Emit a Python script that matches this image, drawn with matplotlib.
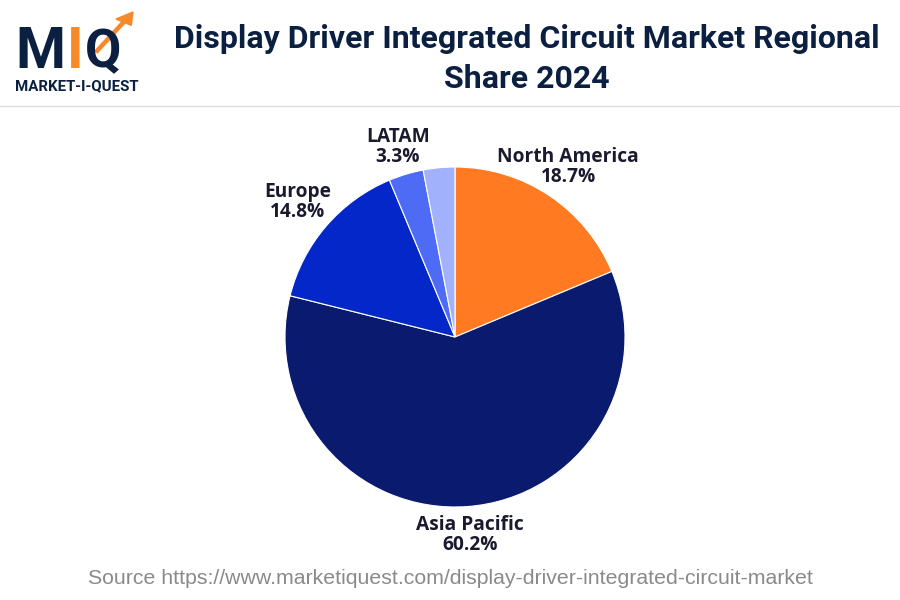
import matplotlib.pyplot as plt
from matplotlib.patches import FancyArrow
import numpy as np

regions = ["North America", "Asia Pacific", "Europe", "LATAM", "Middle East & Africa"]
shares = [18.7, 60.2, 14.8, 3.3, 3.0]
show_label = [True, True, True, True, False]
colors = ["#FF7A21", "#0A1A6E", "#0427C9", "#4E6BF6", "#A2B1FB"]
label_dist = [1.2, 1.17, 1.22, 1.17, 1.15]

navy = "#0B1F40"

fig = plt.figure(figsize=(9, 6), dpi=100)

# pie
ax = fig.add_axes([285 / 900, (600 - 507) / 600, 340 / 900, 340 / 600])
wedges, _ = ax.pie(shares, colors=colors, startangle=90, counterclock=False,
                   radius=1, wedgeprops=dict(edgecolor="white", linewidth=0.8))
ax.set_xlim(-1, 1)
ax.set_ylim(-1, 1)
ax.set_aspect("equal")
ax.axis("off")

for w, name, val, show, d in zip(wedges, regions, shares, show_label, label_dist):
    if not show:
        continue
    ang = np.deg2rad((w.theta1 + w.theta2) / 2)
    ax.text(d * np.cos(ang), d * np.sin(ang), f"{name}\n{val}%", ha="center", va="center",
            fontsize=13.8, fontweight="bold", color="#1a1a2e", family="Open Sans",
            linespacing=1.0, clip_on=False)

# title
fig.text(0.585, 1 - 39 / 600, "Display Driver Integrated Circuit Market Regional", ha="center", va="center",
         fontsize=23, fontweight="bold", color=navy, family="Roboto")
fig.text(0.585, 1 - 79 / 600, "Share 2024", ha="center", va="center",
         fontsize=23, fontweight="bold", color=navy, family="Roboto")

# separator line
fig.add_artist(plt.Line2D([0, 1], [1 - 106 / 600, 1 - 106 / 600], color="#dddddd", linewidth=1))

# logo
base = 1 - 68 / 600
fig.text(15 / 900, base, "M", ha="left", va="baseline", fontsize=41, fontweight="bold",
         color=navy, family="Roboto")
fig.text(67 / 900, base, "I", ha="left", va="baseline", fontsize=41, fontweight="bold",
         color="#F7892A", family="Roboto")
fig.text(85 / 900, 1 - 67 / 600, "Q", ha="left", va="baseline", fontsize=38, fontweight="bold",
         color=navy, family="Roboto")
fig.add_artist(FancyArrow(96 / 900, 1 - 52 / 600, 37 / 900, 40 / 600, width=0.004,
                          head_width=0.02, head_length=0.02, color="#F7892A",
                          length_includes_head=True, transform=fig.transFigure))
fig.text(15 / 900, 1 - 86 / 600, "MARKET-I-QUEST", ha="left", va="center", fontsize=10.8,
         fontweight="bold", color=navy, family="Roboto")

# source
fig.text(0.5, 1 - 578 / 600, "Source https://www.marketiquest.com/display-driver-integrated-circuit-market",
         ha="center", va="center", fontsize=15.3, color="#8a8a8a", family="Liberation Sans")

fig.savefig("out.png", dpi=100, facecolor="white")
